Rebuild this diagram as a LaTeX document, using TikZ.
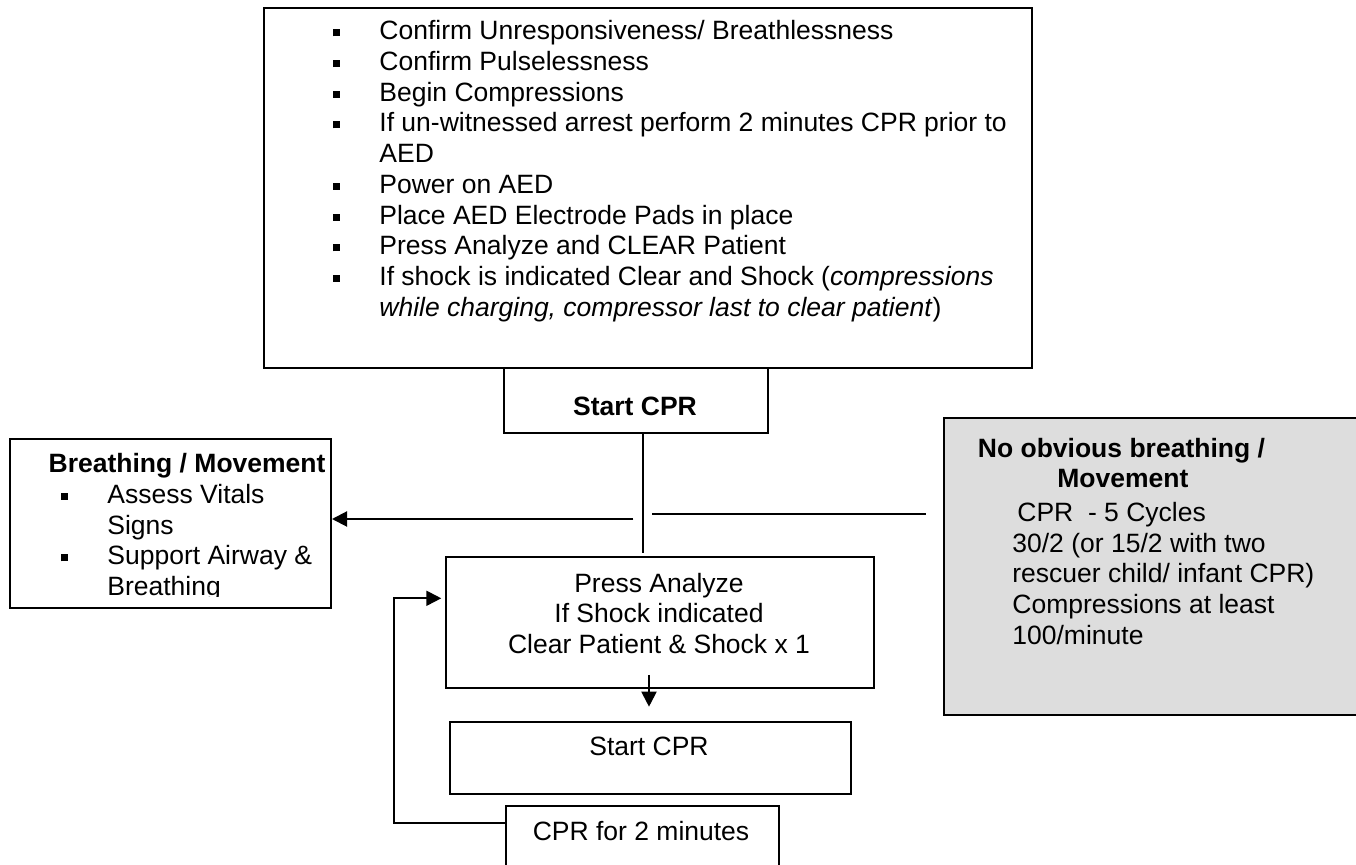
\documentclass[tikz,border=0pt]{standalone}
\usepackage{fontspec}
\setmainfont{Liberation Sans}
\usetikzlibrary{arrows.meta}

\definecolor{panelgray}{RGB}{221,221,221}
\newcommand{\sqblt}{\makebox[23pt][l]{\raisebox{1.75pt}{\rule{3.2pt}{3.5pt}}}}
\newcommand{\sqgap}{\hspace*{23pt}}

\begin{document}
\begin{tikzpicture}[x=0.5pt, y=-0.5pt,
	box/.style={draw, line width=1pt, inner sep=0pt, anchor=north west},
	txt/.style={inner sep=0pt, font=\fontsize{13.25}{15.35}\selectfont},
	link/.style={line width=1pt},
	arrowed/.style={link, -{Triangle[length=7.5pt, width=7.5pt]}}]
	
% Page
\useasboundingbox (0,0) rectangle (1356,865);
\clip (0,0) rectangle (1356,865);

% Boxes
\node[box, minimum width=384pt, minimum height=180.1pt] (checks) at (263,6.6) {};
\node[box, minimum width=132.35pt, minimum height=32.45pt] (startA) at (502.6,366.8) {};
\node[box, minimum width=160.35pt, minimum height=84.2pt] (breath) at (9.3,438.3) {};
\node[box, fill=panelgray, minimum width=225pt, minimum height=148.8pt] (nobreath) at (942.7,416.7) {};
\node[box, minimum width=213.7pt, minimum height=65.65pt] (analyze) at (445.3,556) {};
\node[box, minimum width=200.4pt, minimum height=35.85pt] (startB) at (449.4,721) {};
\node[box, minimum width=136.35pt, minimum height=40pt] (twomin) at (505.3,805) {};

% Texts
\node[txt, anchor=north west, align=left] (checksText) at (333,17.5) {%
	\rule{0pt}{11pt}\sqblt Confirm Unresponsiveness/ Breathlessness\\
	\sqblt Confirm Pulselessness\\
	\sqblt Begin Compressions\\
	\sqblt If un-witnessed arrest perform 2 minutes CPR prior to\\
	\sqgap AED\\
	\sqblt Power on AED\\
	\sqblt Place AED Electrode Pads in place\\
	\sqblt Press Analyze and CLEAR Patient\\
	\sqblt If shock is indicated Clear and Shock (\textit{compressions}\\
	\sqgap\textit{while charging, compressor last to clear patient})};

\node[txt, anchor=base, font=\fontsize{13.25}{15.35}\selectfont\bfseries] (startAText) at (635,415.7) {Start CPR};

\begin{scope}
	\clip (9.3,438.3) rectangle (330,597);
	\node[txt, anchor=north west, align=left] (breathText) at (48.3,450.3) {%
		\rule{0pt}{11pt}\textbf{Breathing / Movement}\\
		\hspace*{6.35pt}\sqblt Assess Vitals\\
		\hspace*{29.35pt}Signs\\
		\hspace*{6.35pt}\sqblt Support Airway \&\\
		\hspace*{29.35pt}Breathing};
\end{scope}

\node[txt, anchor=north west, align=left] (nobreathText) at (977.5,434.8) {%
	\rule{0pt}{11pt}\textbf{No obvious breathing /}\\
	\hspace*{39.75pt}\textbf{Movement}\\[1.5pt]
	\hspace*{19.75pt}CPR\ \ - 5 Cycles\\
	\hspace*{17.25pt}30/2 (or 15/2 with two\\
	\hspace*{17.25pt}rescuer child/ infant CPR)\\
	\hspace*{17.25pt}Compressions at least\\
	\hspace*{17.25pt}100/minute};

\node[txt, anchor=north, align=center] (analyzeText) at (659,569.7) {%
	\rule{0pt}{11pt}Press Analyze\\
	If Shock indicated\\
	Clear Patient \& Shock x 1};

\node[txt, anchor=base] (startBText) at (649,756) {Start CPR};
\node[txt, anchor=base] (twominText) at (641,840.5) {CPR for 2 minutes};

% Connector points
\coordinate (stemEnd) at (643.3,552.7);
\coordinate (splitL) at (633.3,519);
\coordinate (splitR) at (652.3,514.5);
\coordinate (rightEnd) at (925.6,514.5);
\coordinate (downS) at (649,675);
\coordinate (downE) at (649,706.7);
\coordinate (loopB) at (393.9,823.3);
\coordinate (loopT) at (393.9,598.3);

% Connectors
\draw[link] (stemEnd |- startA.south) -- (stemEnd);
\draw[arrowed] (splitL) -- (splitL -| breath.east);
\draw[link] (splitR) -- (rightEnd);
\draw[arrowed] (downS) -- (downE);
\draw[arrowed, shorten >=2pt] (loopB -| twomin.west) -- (loopB) -- (loopT) -- (loopT -| analyze.west);

\end{tikzpicture}
\end{document}
